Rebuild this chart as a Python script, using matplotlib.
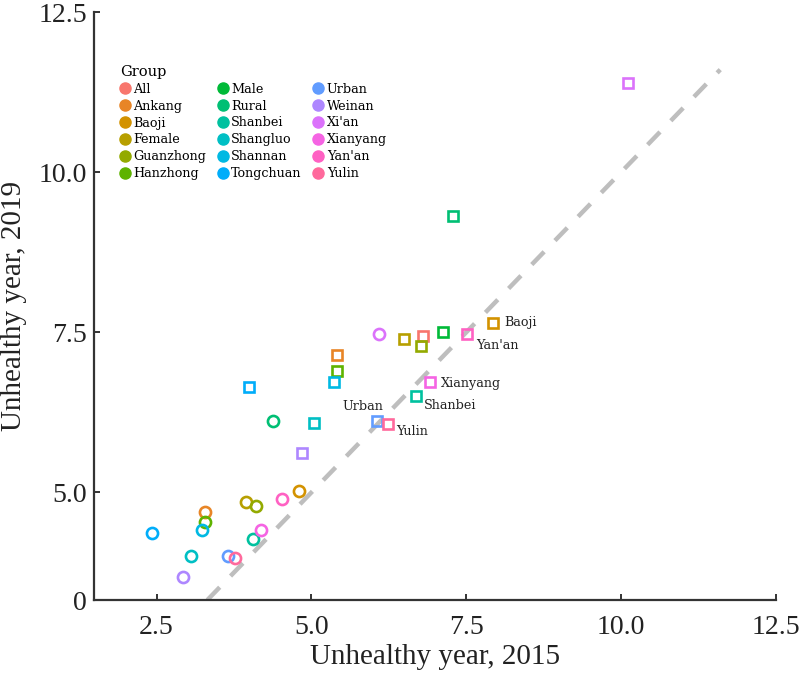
import math

import numpy as np
import matplotlib
matplotlib.use('Agg')
import matplotlib.pyplot as plt
from matplotlib.lines import Line2D

nan = float('nan')

groups = ['All', 'Ankang', 'Baoji', 'Female', 'Guanzhong', 'Hanzhong',
          'Male', 'Rural', 'Shanbei', 'Shangluo', 'Shannan', 'Tongchuan',
          'Urban', 'Weinan', "Xi'an", 'Xianyang', "Yan'an", 'Yulin']

# circles
circle_2015 = [nan, 3.28, 4.80, 3.94, 4.10, 3.28, nan, 4.38, 4.05, 3.05,
               3.24, 2.42, 3.65, 2.92, 6.09, 4.18, 4.53, 3.77]
circle_2019 = [nan, 4.69, 5.02, 4.85, 4.79, 4.53, nan, 6.12, 4.27, 4.00,
               4.41, 4.37, 4.01, 3.68, 7.47, 4.41, 4.90, 3.97]

# squares
square_2015 = [6.80, 5.41, 7.93, 6.50, 6.77, 5.42, 7.12, 7.28, 6.69, 5.04,
               5.36, 3.99, 6.06, 4.84, 10.11, 6.91, 7.51, 6.24]
square_2019 = [7.44, 7.15, 7.65, 7.39, 7.29, 6.90, 7.51, 9.32, 6.51, 6.09,
               6.72, 6.65, 6.11, 5.61, 11.39, 6.73, 7.47, 6.06]

# labelled squares: name, offset in points, alignment
labels = [('Baoji', (8.4, 0), 'left'),
          ("Yan'an", (6.3, -8.4), 'left'),
          ('Xianyang', (7.7, -1.7), 'left'),
          ('Shanbei', (5.3, -7.2), 'left'),
          ('Urban', (4.5, 10.8), 'right'),
          ('Yulin', (5.5, -5.3), 'left')]

y_bottom = 3.32
diag_top = 11.6


def hue_pal(n, c=100.0, l=65.0):
    # ggplot2 style hcl hues
    hues = np.linspace(15, 375, n + 1)[:n]
    un, vn = 0.1978398, 0.4683363
    out = []
    for h in hues:
        u = c * math.cos(math.radians(h))
        v = c * math.sin(math.radians(h))
        Y = ((l + 16) / 116) ** 3 if l > 8 else l / 903.3
        up = u / (13 * l) + un
        vp = v / (13 * l) + vn
        X = Y * 9 * up / (4 * vp)
        Z = Y * (12 - 3 * up - 20 * vp) / (4 * vp)
        rgb = [3.240479 * X - 1.537150 * Y - 0.498535 * Z,
               -0.969256 * X + 1.875992 * Y + 0.041556 * Z,
               0.055648 * X - 0.204043 * Y + 1.057311 * Z]
        res = []
        for t in rgb:
            t = 12.92 * t if t <= 0.0031308 else 1.055 * t ** (1 / 2.4) - 0.055
            res.append(min(max(t, 0), 1))
        out.append(tuple(res))
    return out


colors = hue_pal(len(groups))
small_font = ['DejaVu Serif']

plt.rcParams['font.family'] = ['Liberation Serif', 'DejaVu Serif']

fig = plt.figure(figsize=(8, 6.74), dpi=100)
ax = fig.add_axes([94 / 800, 1 - 600 / 674, (776 - 94) / 800, (600 - 12) / 674])

ax.plot([y_bottom, diag_top], [y_bottom, diag_top], color='#bebebe', lw=3.2,
        linestyle=(0, (4, 3.5)), dash_capstyle='butt', zorder=1)

for i, g in enumerate(groups):
    ax.plot(circle_2015[i], circle_2019[i], marker='o', linestyle='',
            markersize=8, markerfacecolor='none', markeredgewidth=1.9,
            markeredgecolor=colors[i], zorder=3)
    ax.plot(square_2015[i], square_2019[i], marker='s', linestyle='',
            markersize=7.6, markerfacecolor='none', markeredgewidth=1.9,
            markeredgecolor=colors[i], zorder=3)

for name, off, ha in labels:
    i = groups.index(name)
    ax.annotate(name, (square_2015[i], square_2019[i]), xytext=off,
                textcoords='offset points', ha=ha, va='center',
                fontsize=9.2, color='#222222', family=small_font)

ax.set_xlim(1.49, 12.5)
ax.set_ylim(y_bottom, 12.5)
ax.set_xticks([2.5, 5.0, 7.5, 10.0, 12.5])
ax.set_xticklabels(['2.5', '5.0', '7.5', '10.0', '12.5'])
ax.set_yticks([y_bottom, 5.0, 7.5, 10.0, 12.5])
ax.set_yticklabels(['0', '5.0', '7.5', '10.0', '12.5'])

for s in ['top', 'right']:
    ax.spines[s].set_visible(False)
for s in ['left', 'bottom']:
    ax.spines[s].set_color('#333333')
    ax.spines[s].set_linewidth(1.6)
ax.tick_params(direction='in', length=4, width=1.4, color='#333333',
               labelsize=20, labelcolor='#222222')
ax.tick_params(axis='x', pad=11)
ax.tick_params(axis='y', pad=5)

ax.set_xlabel('Unhealthy year, 2015', fontsize=21, color='#222222', labelpad=3)
ax.set_ylabel('Unhealthy year, 2019', fontsize=21, color='#222222', labelpad=8)

handles = [Line2D([], [], marker='o', linestyle='', markersize=8,
                  color=colors[i]) for i in range(len(groups))]
leg = fig.legend(handles, groups, title='Group', ncol=3,
                 loc='upper left', bbox_to_anchor=(120 / 800, 1 - 65 / 674),
                 frameon=False, handlelength=0.75, handletextpad=0.3,
                 columnspacing=0.9, labelspacing=0.3, borderpad=0,
                 borderaxespad=0, alignment='left',
                 prop={'family': small_font, 'size': 9.2},
                 title_fontproperties={'family': small_font, 'size': 10.5})

fig.savefig('out.png', dpi=100)
